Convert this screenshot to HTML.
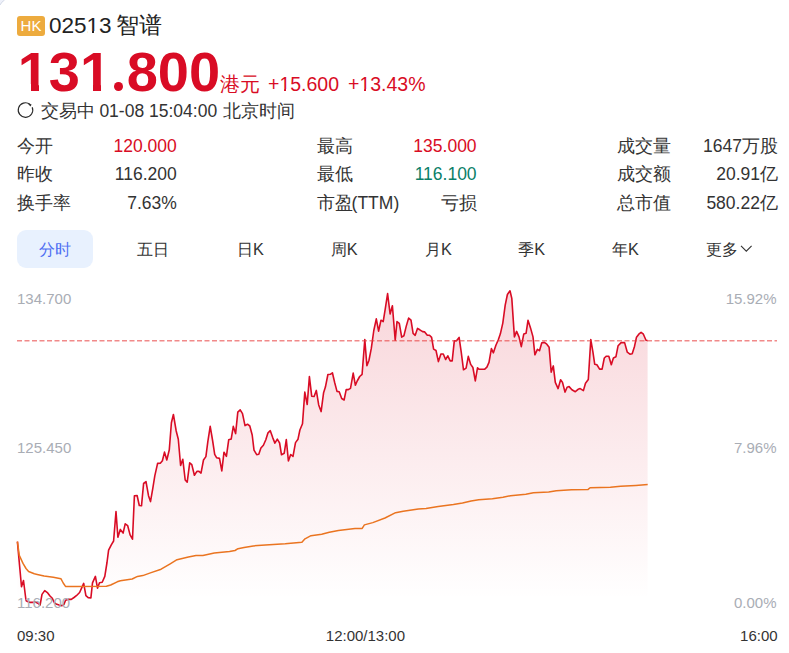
<!DOCTYPE html>
<html><head><meta charset="utf-8">
<style>
*{margin:0;padding:0;box-sizing:border-box}
html,body{width:789px;height:653px;overflow:hidden;background:#fff}
body{font-family:"Liberation Sans",sans-serif;color:#333;position:relative}
.a{position:absolute;white-space:nowrap;line-height:1}
.c{display:inline-block;text-align:center}
.hk{left:17px;top:16px;width:28px;height:19.5px;background:#EDAB3E;border-radius:3px;color:#fff;font-size:15px;line-height:19.5px;text-align:center}
.name{font-size:22.5px;color:#222}
.price{left:17.7px;top:44px;font-size:56px;font-weight:bold;color:#D90C25}
.chg{font-size:19.5px;color:#D90C25;top:75px}
.st{font-size:17.5px;color:#333;top:103px}
.row{font-size:17.5px;color:#333}
.red{color:#D90C25}.grn{color:#0A8068}
.r1{top:138px}.r2{top:166px}.r3{top:195px}
.t{font-size:16.25px;color:#333;top:241px}
.pill{left:17px;top:230px;width:76px;height:38px;background:#E8F1FE;border-radius:9px}
.ax{font-size:15px;color:#A9ADB5}
.tm{font-size:15px;color:#333;top:628px}
.k{display:inline-block;width:16.25px}
.k2{display:inline-block;width:17.5px;text-align:center}
</style></head><body>
<div class="a hk">HK</div>
<div class="a name" style="left:49px;top:15px">02513</div>
<div class="a name" style="left:115.5px;top:15px">智谱</div>
<div class="a price">131.800</div>
<svg class="a" style="left:0;top:0" width="10" height="10" viewBox="0 0 10 10"><path d="M0 0 H4.6 Q1.6 1.8 0 5 Z" fill="#EEF1FA"/><path d="M4.6 0 Q1.6 1.8 0 5" fill="none" stroke="#D3D8E6" stroke-width="1"/></svg>
<div class="a" style="left:19px;top:84.3px;width:11.5px;height:8px;background:#fff"></div>
<div class="a" style="left:38.5px;top:84.3px;width:10.5px;height:8px;background:#fff"></div>
<div class="a" style="left:81.5px;top:84.3px;width:11.5px;height:8px;background:#fff"></div>
<div class="a" style="left:101px;top:84.3px;width:10.4px;height:8px;background:#fff"></div>
<div class="a" style="left:113.2px;top:80.5px;width:11px;height:12px;background:#fff"></div>
<div class="a" style="left:113.9px;top:81.7px;width:9.4px;height:9.6px;border-radius:50%;background:#D90C25"></div>
<div class="a" style="left:220px;top:74px;font-size:20px;color:#D90C25">港元</div>
<div class="a chg" style="left:268px">+15.600</div>
<div class="a chg" style="left:348px">+13.43%</div>
<div class="a" style="left:87.5px;top:31px;width:4.5px;height:2px;background:#fff"></div>
<div class="a" style="left:94.4px;top:31px;width:4.6px;height:2px;background:#fff"></div>
<div class="a" style="left:279.5px;top:89px;width:4.5px;height:2px;background:#fff"></div>
<div class="a" style="left:286px;top:89px;width:4.5px;height:2px;background:#fff"></div>
<div class="a" style="left:359.5px;top:89px;width:4.5px;height:2px;background:#fff"></div>
<div class="a" style="left:366px;top:89px;width:4.5px;height:2px;background:#fff"></div>
<svg class="a" style="left:0;top:0" width="60" height="130" viewBox="0 0 60 130"><path d="M32.2 107.3 A7.25 7.25 0 1 1 29.9 104.3" fill="none" stroke="#2a2a2a" stroke-width="1.15"/><path d="M27.2 103.0 L31.6 104.5 L30.5 106.4 Z" fill="#2a2a2a"/></svg>
<div class="a st" style="left:41.2px">交易中</div>
<div class="a st" style="left:99.4px">01-08 15:04:00</div>
<div class="a st" style="left:223px">北京时间</div>

<div class="a row r1" style="left:17px">今开</div>
<div class="a row r1 red" style="right:612.2px">120.000</div>
<div class="a row r2" style="left:17px">昨收</div>
<div class="a row r2" style="right:612.2px">116.200</div>
<div class="a row r3" style="left:17px">换手率</div>
<div class="a row r3" style="right:612.2px">7.63%</div>

<div class="a row r1" style="left:317px">最高</div>
<div class="a row r1 red" style="right:312.4px">135.000</div>
<div class="a row r2" style="left:317px">最低</div>
<div class="a row r2 grn" style="right:312.4px">116.100</div>
<div class="a row r3" style="left:317px">市盈</div>
<div class="a row r3" style="left:351.6px">(TTM)</div>
<div class="a row r3" style="right:312.4px">亏损</div>

<div class="a row r1" style="left:616.6px">成交量</div>
<div class="a row r1" style="left:703.1px">1647<span class="k2">万</span><span class="k2">股</span></div>
<div class="a row r2" style="left:616.6px">成交额</div>
<div class="a row r2" style="left:716.2px">20.91<span class="k2">亿</span></div>
<div class="a row r3" style="left:616.6px">总市值</div>
<div class="a row r3" style="left:706.4px">580.22<span class="k2">亿</span></div>

<div class="a pill"></div>
<div class="a t" style="left:38.75px;color:#4E6EF2">分时</div>
<div class="a t" style="left:137px">五日</div>
<div class="a t" style="left:236.85px"><span class="k">日</span>K</div>
<div class="a t" style="left:330.55px"><span class="k">周</span>K</div>
<div class="a t" style="left:424.65px"><span class="k">月</span>K</div>
<div class="a t" style="left:518.05px"><span class="k">季</span>K</div>
<div class="a t" style="left:611.75px"><span class="k">年</span>K</div>
<div class="a t" style="left:705.5px">更多</div>
<svg class="a" style="left:740px;top:244px" width="13" height="9" viewBox="0 0 13 9"><path d="M1 1.8 L6.3 7.2 L11.6 1.8" fill="none" stroke="#333" stroke-width="1.1"/></svg>

<svg class="a" style="left:0;top:0" width="789" height="653" viewBox="0 0 789 653">
<defs>
<linearGradient id="g" x1="0" y1="291" x2="0" y2="600" gradientUnits="userSpaceOnUse">
<stop offset="0" stop-color="#D90C25" stop-opacity="0.17"/>
<stop offset="1" stop-color="#D90C25" stop-opacity="0"/>
</linearGradient>
</defs>
<polygon fill="url(#g)" points="17.4,541.6 21.5,586.8 23.5,580.5 26,600.5 27.5,601.5 30.2,602.4 32.9,602.4 35.5,602 37.8,603.2 40.1,605 42,594.4 44.7,590.6 47.7,592.9 50,596 52.3,598.3 54.5,602.8 56.8,604.3 59.1,605.1 62.1,605.6 64,604.3 65.6,600.2 68.2,599.4 71.3,599.4 74,597.5 76.4,595.7 79.6,592.5 81.8,587.7 83.7,583.4 85.9,595.7 88.2,597.7 90.9,597.9 92.5,582.9 95.4,576.4 97.5,588.2 99.5,582.7 102.2,582.3 104.8,576.4 107,562.5 108.6,550.2 111.3,544.8 113.6,541 116,511.6 117.9,537.3 120.3,529.4 123.1,533.1 125.2,523.9 127.7,525.7 130.1,534.9 132.5,539.2 134.4,495.7 137.1,495.5 139.3,505.5 141.5,505.8 143.6,483.5 146,481.6 148.5,495.7 150.5,501.6 152.8,488.4 154.8,475.9 157.6,463.4 160.3,463.2 162.4,460.7 164.5,452.1 166.8,460 169.3,449.7 171.4,422.8 173.4,414.5 176.2,431 178.3,439.3 180.6,465.5 182.8,459.3 185.2,480 187.2,482.1 189.7,462.8 191.8,464.6 194.4,475.2 196.9,471.4 199,471.4 201,473.1 203.5,460 205.9,456.6 207.8,441.9 210.2,426.4 212.6,440.5 214.7,454.3 216.7,457.8 219.5,458.4 221.8,470.9 224,452.2 226.4,456.4 228.7,439.8 231.2,439.1 233.3,426.4 235.6,433.6 237.8,412.2 240.2,409.9 242.5,413.6 245,425.6 247.5,424.2 249.8,426 252.2,435 254,450.2 256.7,454.6 258.8,454.3 260.9,448.1 263.4,445.2 265.8,439.7 268,432.8 270.3,430.7 272.7,437.6 274.9,443.1 277.3,439.2 279.6,443 281.5,454.8 284.2,453.3 286.3,439.5 288.4,461 290.7,454.5 293,456.4 295.5,442.6 298,439.2 299.9,430 302.5,423.8 304.8,392.1 307.2,404.5 309.4,376.6 311.7,396.2 314.1,396.5 316.3,390.4 318.7,404.9 321.1,411.6 323.6,392.7 325.4,387.1 327.9,374.5 330.3,374.3 332.4,372.8 334.6,382.2 337,391.4 339.2,391.7 341.7,398.5 344.1,400 346.2,389.6 348.3,389.6 350.5,388.4 353.2,373.1 355.4,385.3 357.2,381 359.7,376.5 362.1,374.3 364.8,339.5 366.9,365.7 369,360.2 371.3,348.4 373.8,330.5 376.3,318.8 378.6,331.2 381,320.2 383.2,321.6 385.1,309.8 387.6,293.6 390.1,314 392.4,305.7 395.2,340.2 397,321.6 399.3,323.3 401.7,337.1 403.9,335.8 406.2,326.4 408.6,318.1 411,320.2 413.1,333.3 415.2,335.3 417.5,328.4 419.8,329.8 422.6,331.6 424.7,331.9 427.1,335.1 429.5,335.3 431.6,337.4 433.6,349.1 436,350.5 438.4,361.6 440.9,354 443.3,354 445.6,359.5 447.8,355.8 450.2,360.9 452.2,360.9 454.3,340.9 456.7,340.6 459.1,337.4 461.2,351.9 463.5,369.8 466.1,368.1 468.3,356.4 470.7,364.4 472.9,367.5 475.3,380.9 477.5,367.8 479.3,369.3 484.5,369.3 486.9,367.1 489,362.4 491.4,348.6 493.4,352.8 495.9,345.2 498.3,339.7 500.3,334.1 502.8,323.1 505.2,305.2 507.4,294.5 510,290.8 511.8,298.4 514.4,336.9 516.6,331.4 519,336.9 521.3,346.6 523.8,333.9 526.1,333.2 528,320.3 530.5,327.9 533,336.9 534.9,354.8 537.4,349.3 539.5,350.7 541.8,342.8 544.3,342.4 546.8,344.2 549.1,347.2 551.2,372.1 553.3,365.9 555.3,382.4 558.1,388.6 560.6,379.7 562.5,382.4 565,392.1 567.1,387.2 569.1,386.6 571.9,389.7 575.3,391.7 578.1,389.3 580.2,388.6 583.4,390.6 585.5,383.2 588.3,379.5 590.8,339.6 592.9,351.9 594.7,364.2 596.9,364.8 599.6,369.1 602.1,369.1 604.3,358 606.4,356.2 608.8,356.2 611.3,364.8 613.4,358 615.9,356.8 618.1,345.7 621.1,342.6 624.6,342.6 627.3,352.2 629.9,354.1 632.2,353.7 634.5,346.4 636.5,337.2 638.8,334.2 641.1,332.3 643.4,334.2 646,340.3 647.6,340.5 647.6,603 17.4,603"/>


<polyline fill="none" stroke="#D90C25" stroke-width="1.6" stroke-linejoin="round" points="17.4,541.6 21.5,586.8 23.5,580.5 26,600.5 27.5,601.5 30.2,602.4 32.9,602.4 35.5,602 37.8,603.2 40.1,605 42,594.4 44.7,590.6 47.7,592.9 50,596 52.3,598.3 54.5,602.8 56.8,604.3 59.1,605.1 62.1,605.6 64,604.3 65.6,600.2 68.2,599.4 71.3,599.4 74,597.5 76.4,595.7 79.6,592.5 81.8,587.7 83.7,583.4 85.9,595.7 88.2,597.7 90.9,597.9 92.5,582.9 95.4,576.4 97.5,588.2 99.5,582.7 102.2,582.3 104.8,576.4 107,562.5 108.6,550.2 111.3,544.8 113.6,541 116,511.6 117.9,537.3 120.3,529.4 123.1,533.1 125.2,523.9 127.7,525.7 130.1,534.9 132.5,539.2 134.4,495.7 137.1,495.5 139.3,505.5 141.5,505.8 143.6,483.5 146,481.6 148.5,495.7 150.5,501.6 152.8,488.4 154.8,475.9 157.6,463.4 160.3,463.2 162.4,460.7 164.5,452.1 166.8,460 169.3,449.7 171.4,422.8 173.4,414.5 176.2,431 178.3,439.3 180.6,465.5 182.8,459.3 185.2,480 187.2,482.1 189.7,462.8 191.8,464.6 194.4,475.2 196.9,471.4 199,471.4 201,473.1 203.5,460 205.9,456.6 207.8,441.9 210.2,426.4 212.6,440.5 214.7,454.3 216.7,457.8 219.5,458.4 221.8,470.9 224,452.2 226.4,456.4 228.7,439.8 231.2,439.1 233.3,426.4 235.6,433.6 237.8,412.2 240.2,409.9 242.5,413.6 245,425.6 247.5,424.2 249.8,426 252.2,435 254,450.2 256.7,454.6 258.8,454.3 260.9,448.1 263.4,445.2 265.8,439.7 268,432.8 270.3,430.7 272.7,437.6 274.9,443.1 277.3,439.2 279.6,443 281.5,454.8 284.2,453.3 286.3,439.5 288.4,461 290.7,454.5 293,456.4 295.5,442.6 298,439.2 299.9,430 302.5,423.8 304.8,392.1 307.2,404.5 309.4,376.6 311.7,396.2 314.1,396.5 316.3,390.4 318.7,404.9 321.1,411.6 323.6,392.7 325.4,387.1 327.9,374.5 330.3,374.3 332.4,372.8 334.6,382.2 337,391.4 339.2,391.7 341.7,398.5 344.1,400 346.2,389.6 348.3,389.6 350.5,388.4 353.2,373.1 355.4,385.3 357.2,381 359.7,376.5 362.1,374.3 364.8,339.5 366.9,365.7 369,360.2 371.3,348.4 373.8,330.5 376.3,318.8 378.6,331.2 381,320.2 383.2,321.6 385.1,309.8 387.6,293.6 390.1,314 392.4,305.7 395.2,340.2 397,321.6 399.3,323.3 401.7,337.1 403.9,335.8 406.2,326.4 408.6,318.1 411,320.2 413.1,333.3 415.2,335.3 417.5,328.4 419.8,329.8 422.6,331.6 424.7,331.9 427.1,335.1 429.5,335.3 431.6,337.4 433.6,349.1 436,350.5 438.4,361.6 440.9,354 443.3,354 445.6,359.5 447.8,355.8 450.2,360.9 452.2,360.9 454.3,340.9 456.7,340.6 459.1,337.4 461.2,351.9 463.5,369.8 466.1,368.1 468.3,356.4 470.7,364.4 472.9,367.5 475.3,380.9 477.5,367.8 479.3,369.3 484.5,369.3 486.9,367.1 489,362.4 491.4,348.6 493.4,352.8 495.9,345.2 498.3,339.7 500.3,334.1 502.8,323.1 505.2,305.2 507.4,294.5 510,290.8 511.8,298.4 514.4,336.9 516.6,331.4 519,336.9 521.3,346.6 523.8,333.9 526.1,333.2 528,320.3 530.5,327.9 533,336.9 534.9,354.8 537.4,349.3 539.5,350.7 541.8,342.8 544.3,342.4 546.8,344.2 549.1,347.2 551.2,372.1 553.3,365.9 555.3,382.4 558.1,388.6 560.6,379.7 562.5,382.4 565,392.1 567.1,387.2 569.1,386.6 571.9,389.7 575.3,391.7 578.1,389.3 580.2,388.6 583.4,390.6 585.5,383.2 588.3,379.5 590.8,339.6 592.9,351.9 594.7,364.2 596.9,364.8 599.6,369.1 602.1,369.1 604.3,358 606.4,356.2 608.8,356.2 611.3,364.8 613.4,358 615.9,356.8 618.1,345.7 621.1,342.6 624.6,342.6 627.3,352.2 629.9,354.1 632.2,353.7 634.5,346.4 636.5,337.2 638.8,334.2 641.1,332.3 643.4,334.2 646,340.3 647.6,340.5"/>
<polyline fill="none" stroke="#EA7420" stroke-width="1.5" stroke-linejoin="round" points="17.4,541.6 19.3,555.4 23,563.4 26,568.5 28.6,571.5 34.3,573.8 37.2,574.4 44.1,576.1 53.3,577.2 60.9,578.7 63.2,583 65.5,586.4 74.7,586.6 106.4,586.3 110.7,585 117.2,581.8 120.4,580.7 132.2,579 137.5,576.4 142.8,575.6 150.4,572.9 161.1,569.2 170.2,563.8 177,559.7 188.4,557.1 196,555.6 202.9,555.6 214.3,553.1 229.5,551.6 235,550.5 238,548.7 244.1,547.5 253.3,545.9 265.4,545 285.2,543.8 301.9,542.3 305,538.8 311,535.7 321.7,534.2 329.3,532.2 338.4,530.4 355,528.6 362.2,528.4 364.4,524.9 372.8,522.6 385,518 395.6,512.7 403.2,511.2 418.4,508.9 426,508.6 438.2,506.6 453.4,504.6 462.5,503.1 471.1,501.1 478.7,499.8 492.4,498.8 503,497.3 510.6,495.7 525.8,494.2 533.4,492.7 548.7,491.9 556.3,490.7 571.5,489.7 588.1,489.4 590.1,487.7 610.4,487.2 620.6,486.2 635.8,485.4 647.7,484.6"/>
<line x1="17" y1="340.7" x2="777" y2="340.7" stroke="#E83C3C" stroke-opacity="0.6" stroke-dasharray="5 2.5" stroke-width="1.5"/>
</svg>

<div class="a ax" style="left:17px;top:291px">134.700</div>
<div class="a ax" style="left:17px;top:440px">125.450</div>
<div class="a ax" style="left:17px;top:595px">116.200</div>
<div class="a ax" style="right:12.5px;top:291px">15.92%</div>
<div class="a ax" style="right:12.5px;top:440px">7.96%</div>
<div class="a ax" style="right:12.5px;top:595px">0.00%</div>
<div class="a tm" style="left:17px">09:30</div>
<div class="a tm" style="left:325.8px">12:00/13:00</div>
<div class="a tm" style="right:11.4px">16:00</div>
</body></html>
